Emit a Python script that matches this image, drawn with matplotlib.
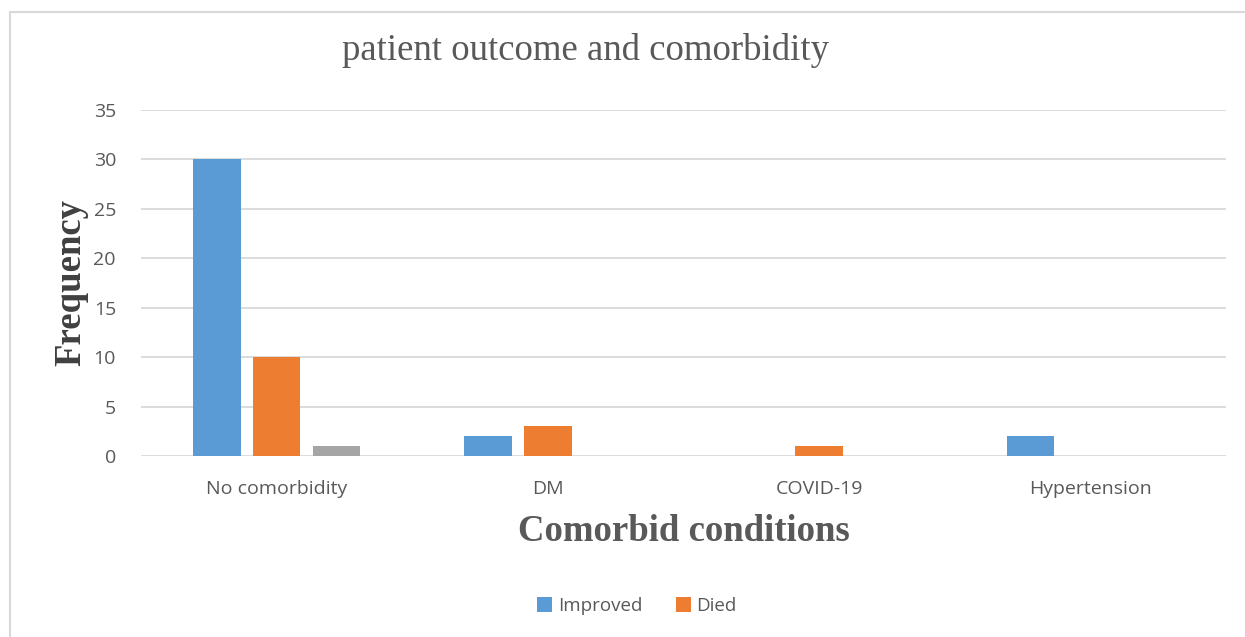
import matplotlib.pyplot as plt
import numpy as np
from matplotlib.patches import Rectangle

categories = ["No comorbidity", "DM", "COVID-19", "Hypertension"]
improved = [30, 2, 0, 2]
died = [10, 3, 1, 0]
other = [1, 0, 0, 0]
yticks = [0, 5, 10, 15, 20, 25, 30, 35]

fig = plt.figure(figsize=(12.45, 6.37), dpi=100)
ax = fig.add_axes([141 / 1245, 1 - 456 / 637, (1226 - 141) / 1245, (456 - 110) / 637])

x = np.arange(len(categories))
w = 0.175
off = 0.22
ax.bar(x - off, improved, w, color="#5B9BD5", label="Improved", zorder=3)
ax.bar(x, died, w, color="#ED7D31", label="Died", zorder=3)
ax.bar(x + off, other, w, color="#A5A5A5", zorder=3)

ax.set_xlim(-0.5, len(categories) - 0.5)
ax.set_ylim(0, 35)
ax.set_yticks(yticks)
ax.set_xticks(x)
ax.set_xticklabels(categories)
ax.tick_params(axis="both", length=0, labelsize=14, labelcolor="#595959")
for lab in ax.get_xticklabels() + ax.get_yticklabels():
    lab.set_family("Open Sans")
ax.tick_params(axis="x", pad=17)
ax.tick_params(axis="y", pad=18)
ax.yaxis.grid(True, color="#D9D9D9", linewidth=1.3, zorder=0)
for s in ax.spines.values():
    s.set_visible(False)

ax.set_xlabel("Comorbid conditions", family="Liberation Serif", fontweight="bold",
              fontsize=26.5, color="#595959", labelpad=12)
ax.set_ylabel("Frequency", family="Liberation Serif", fontweight="bold",
              fontsize=26.5, color="#404040", labelpad=4)

fig.text(586 / 1245, 1 - 51 / 637, "patient outcome and comorbidity", family="Liberation Serif",
         fontsize=26.5, color="#595959", ha="center", va="center")

fig.legend(loc="center", bbox_to_anchor=(637 / 1245, 1 - 606 / 637), ncol=2, frameon=False,
           prop={"family": "Open Sans", "size": 13.5}, labelcolor="#595959",
           handlelength=0.8, handleheight=0.8, handletextpad=0.3, columnspacing=1.8)

# chart area frame
fig.patches.append(Rectangle((10 / 1245, -0.05), 1.1, 1 - 12 / 637 + 0.05, transform=fig.transFigure,
                             fill=False, edgecolor="#D9D9D9", linewidth=1.5))

fig.savefig("out.png", dpi=100)
